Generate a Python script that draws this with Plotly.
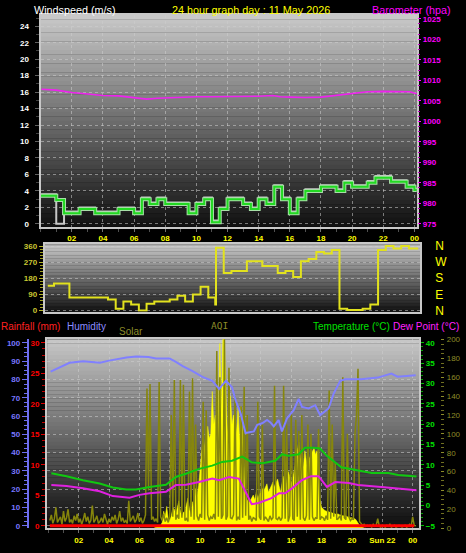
import plotly.graph_objects as go

W, H = 466, 553

# ---------------- data ----------------
hour_ticks = [2, 4, 6, 8, 10, 12, 14, 16, 18, 20, 22, 24]
hour_labels = ['02', '04', '06', '08', '10', '12', '14', '16', '18', '20', '22', '00']
hour_labels_p3 = ['02', '04', '06', '08', '10', '12', '14', '16', '18', '20', 'Sun 22', '00']

# wind speed (m/s), half-hour steps
wind_t = [0.0, 0.5, 1.0, 1.5, 2.0, 2.5, 3.0, 3.5, 4.0, 4.5, 5.0, 5.5, 6.0, 6.5, 7.0, 7.5,
          8.0, 8.5, 9.0, 9.5, 10.0, 10.5, 11.0, 11.5, 12.0, 12.5, 13.0, 13.5, 14.0, 14.5,
          15.0, 15.5, 16.0, 16.5, 17.0, 17.5, 18.0, 18.5, 19.0, 19.5, 20.0, 20.5, 21.0,
          21.5, 22.0, 22.5, 23.0, 23.5, 24.0, 24.15]
wind_speed = [3.4, 3.4, 2.9, 1.3, 1.3, 1.8, 1.8, 1.3, 1.3, 1.3, 1.8, 1.8, 1.3, 3.0, 2.4, 3.0,
              2.4, 2.4, 2.4, 1.3, 2.4, 3.0, 0.2, 1.8, 3.0, 3.0, 2.4, 1.8, 3.0, 2.4,
              4.5, 3.0, 1.3, 3.0, 4.0, 4.0, 4.5, 4.5, 4.0, 5.0, 4.5, 4.5, 5.0,
              5.6, 5.6, 5.1, 5.1, 4.5, 4.1, 4.1]
wind_gust = [3.6, 3.6, 0.0, 1.5, 1.5, 2.0, 2.0, 1.5, 1.5, 1.5, 2.0, 2.0, 1.5, 3.2, 2.6, 3.2,
             2.6, 2.6, 2.6, 1.5, 2.6, 3.2, 0.4, 2.0, 3.2, 3.2, 2.6, 2.0, 3.2, 2.6,
             4.7, 3.2, 1.5, 3.2, 4.2, 4.2, 4.7, 4.7, 4.2, 5.2, 4.7, 4.7, 5.2,
             5.8, 5.8, 5.3, 5.3, 4.7, 4.3, 4.3]

# barometer (hPa)
baro_t = [0.05, 1, 2, 3, 4, 5, 6, 6.8, 7.5, 8, 9, 10, 11, 12, 13, 14, 14.9, 15.4, 16, 17,
          18, 19, 20, 21, 22, 23, 23.7, 24.15]
baro_hpa = [1007.8, 1007.6, 1007.0, 1006.6, 1006.3, 1006.2, 1005.8, 1005.4, 1005.6, 1005.7,
            1005.9, 1006.0, 1006.0, 1006.0, 1006.0, 1006.1, 1006.3, 1006.0, 1005.9, 1005.8,
            1005.9, 1006.3, 1006.8, 1007.2, 1007.3, 1007.2, 1007.2, 1006.7]

# wind direction (degrees)
dir_t = [0.1, 0.5, 1.5, 4.0, 4.5, 5.0, 5.5, 6.0, 6.5, 7.0, 8.0, 8.5, 9.0, 9.5, 10.0, 10.5,
         10.95, 11.0, 11.5, 12.0, 13.0, 14.0, 15.0, 15.5, 16.0, 16.5, 17.0, 17.5, 18.0, 18.5,
         19.0, 19.5, 20.5, 21.0, 21.5, 22.0, 22.5, 23.0, 23.5, 24.1]
dir_deg = [138, 151, 72, 61, 10, 50, 33, 0, 37, 50, 61, 83, 50, 89, 133, 72,
           33, 351, 209, 221, 275, 249, 209, 221, 187, 275, 288, 327, 319, 338,
           10, 3, 10, 33, 338, 360, 347, 360, 347, 347]
compass_vals = [0, 90, 180, 270, 360]
compass_text = ['N', 'E', 'S', 'W', 'N']

# humidity (%)
hum_t = [0.15, 0.75, 1.4, 2.3, 3.4, 4.0, 4.6, 5.15, 5.8, 6.6, 7.1, 8.0, 8.4, 8.85, 9.5,
         10.15, 10.8, 11.25, 11.7, 11.9, 12.1, 12.34, 12.67, 12.99, 13.54, 13.76, 14.09,
         14.41, 14.63, 14.85, 15.17, 15.39, 15.72, 16.16, 16.49, 16.71, 17.15, 17.58, 17.91,
         18.46, 18.79, 19.23, 19.56, 20.6, 21.7, 22.6, 23.0, 24.2]
hum_pct = [84.3, 86.4, 89.1, 90.0, 89.1, 90.3, 91.4, 92.0, 92.6, 92.3, 91.4, 91.4, 89.6, 87.3, 84.6,
           81.4, 79.3, 74.8, 79.3, 77.5, 75.7, 68.6, 61.4, 50.7, 51.6, 55.2, 56.0,
           57.8, 56.5, 54.3, 57.8, 51.6, 58.7, 63.2, 69.4, 65.0, 64.1, 65.9, 60.5,
           64.1, 72.1, 79.3, 80.1, 80.1, 81.0, 83.2, 81.5, 82.3]

# temperature / dew point (°C)
temp_t = [0.2, 1.2, 2.28, 3.38, 4.25, 5.13, 5.78, 6.66, 7.75, 8.4, 9.06, 9.93, 10.8, 11.45,
          12.1, 12.77, 13.4, 14.1, 14.95, 15.4, 15.8, 16.5, 16.9, 17.5, 17.9, 18.35, 19.3,
          20.4, 21.3, 22.4, 23.05, 24.25]
temp_c = [7.9, 7.2, 6.2, 5.4, 4.4, 3.9, 3.9, 4.55, 5.1, 7.0, 7.8, 9.0, 9.8, 10.7,
          11.0, 12.0, 10.6, 10.4, 11.0, 12.6, 12.2, 12.6, 14.2, 14.2, 14.0, 12.2, 9.4,
          8.7, 8.0, 8.0, 7.5, 7.1]
dew_t = [0.2, 1.2, 2.28, 3.38, 4.25, 5.35, 6.0, 6.66, 7.75, 8.4, 9.06, 9.93, 10.8, 11.25,
         11.9, 12.55, 12.99, 13.4, 13.85, 14.3, 14.7, 15.2, 15.6, 16.05, 16.7, 17.3, 17.8,
         18.35, 18.9, 19.8, 20.4, 21.95, 23.05, 24.25]
dew_c = [5.0, 4.8, 4.2, 3.5, 2.3, 1.9, 2.6, 3.0, 3.35, 5.0, 5.1, 5.75, 6.6, 6.2,
         7.0, 6.6, 3.35, 0.3, 0.6, 1.3, 1.8, 3.0, 3.0, 4.2, 6.2, 7.2, 7.2,
         4.55, 5.75, 5.5, 5.0, 4.55, 4.2, 3.75]

# rainfall (mm)
rain_t = [0.1, 24.1]
rain_mm = [0.0, 0.0]

# solar (W/m2), 6-minute samples from 07:00
solar_start = 7.0
solar_wm2 = [1, 1, 2, 2, 3, 6, 18, 12, 23, 10,
             8, 13, 22, 20, 15, 24, 29, 18, 12, 17,
             17, 25, 32, 20, 14, 28, 20, 42, 35, 45,
             63, 80, 98, 85, 70, 108, 95, 100, 145, 110,
             120, 90, 118, 196, 120, 205, 200, 145, 100, 115,
             140, 110, 120, 118, 100, 129, 90, 129, 101, 60,
             36, 30, 28, 29, 33, 35, 30, 38, 32, 36,
             39, 42, 40, 44, 47, 38, 42, 45, 49, 44,
             49, 52, 45, 38, 48, 55, 42, 50, 60, 55,
             48, 52, 62, 70, 80, 91, 75, 70, 65, 82,
             70, 60, 74, 78, 80, 85, 78, 82, 65, 30,
             22, 20, 19, 18, 18, 17, 17, 16, 16, 15,
             15, 15, 14, 14, 13, 13, 13, 12, 12, 11,
             11, 10, 10, 8, 5, 3, 2, 1, 0, 0]

# AQI, 6-minute samples from 00:06
aqi_start = 0.1
aqi_val = [8, 14, 5, 10, 22, 6, 9, 12, 4, 18,
           7, 11, 20, 6, 9, 5, 13, 8, 15, 6,
           10, 4, 9, 16, 7, 12, 5, 8, 24, 6,
           9, 13, 5, 7, 11, 6, 15, 8, 4, 10,
           6, 12, 8, 14, 5, 9, 18, 7, 11, 6,
           8, 5, 29, 7, 10, 13, 6, 9, 16, 7,
           11, 5, 8, 14, 148, 40, 153, 9, 12, 7,
           10, 6, 155, 12, 8, 15, 7, 11, 6, 13,
           120, 12, 157, 9, 14, 10, 157, 11, 152, 8,
           10, 7, 145, 12, 159, 9, 110, 13, 8, 15,
           11, 134, 9, 125, 14, 8, 12, 10, 15, 9,
           188, 12, 160, 10, 14, 205, 9, 13, 170, 11,
           10, 14, 140, 8, 12, 9, 129, 11, 150, 13,
           120, 9, 13, 7, 11, 10, 8, 134, 12, 9,
           110, 8, 12, 10, 7, 13, 9, 11, 151, 10,
           9, 12, 8, 11, 151, 10, 110, 7, 13, 122,
           10, 8, 115, 12, 103, 9, 120, 11, 8, 13,
           110, 9, 100, 12, 8, 11, 10, 105, 9, 12,
           11, 8, 13, 9, 146, 10, 110, 12, 70, 9,
           10, 13, 8, 160, 11, 9, 100, 12, 8, 10,
           9, 100, 120, 169, 7, 5, 3, 4, 2, 3,
           2, 3, 1, 4, 2, 3, 10, 2, 1, 3,
           2, 1, 3, 2, 4, 1, 2, 3, 1, 2,
           3, 2, 1, 2, 3, 1, 2, 4, 2, 12,
           3, 2]

solar_t = [round(solar_start + 0.1 * i, 2) for i in range(len(solar_wm2))]
aqi_t = [round(aqi_start + 0.1 * i, 2) for i in range(len(aqi_val))]

# ---------------- geometry helpers ----------------
def fx(px):
    return px / W

def fy(py):
    return 1 - py / H

P1 = dict(l=40.7, r=419, t=10, b=226)
P2 = dict(l=45, r=422, t=244, b=313)
P3 = dict(l=47.3, r=421, t=341, b=534)

TICKFONT = dict(family='Liberation Sans, Arial, sans-serif', size=8, weight='bold')
GRID = 'rgba(205,205,205,0.55)'

fig = go.Figure()

# ---------- panel 1 ----------
fig.add_trace(go.Scatter(x=wind_t, y=wind_gust, mode='lines', line=dict(color='#c8c8c8', width=2, shape='hv'),
                         xaxis='x', yaxis='y', hoverinfo='skip'))
fig.add_trace(go.Scatter(x=wind_t, y=wind_speed, mode='lines', line=dict(color='#a8e0a8', width=4, shape='hv'),
                         xaxis='x', yaxis='y', hoverinfo='skip'))
fig.add_trace(go.Scatter(x=wind_t, y=wind_speed, mode='lines', line=dict(color='#22d822', width=2, shape='hv'),
                         xaxis='x', yaxis='y'))
fig.add_trace(go.Scatter(x=baro_t, y=baro_hpa, mode='lines', line=dict(color='#ee22ee', width=1.6),
                         xaxis='x', yaxis='y2'))

# ---------- panel 2 ----------
fig.add_trace(go.Scatter(x=dir_t, y=dir_deg, mode='lines', line=dict(color='#e2e21e', width=2, shape='hv'),
                         xaxis='x2', yaxis='y3'))
fig.add_trace(go.Scatter(x=dir_t, y=dir_deg, mode='lines', line=dict(width=0), opacity=0,
                         xaxis='x2', yaxis='y4', hoverinfo='skip'))

# ---------- panel 3 ----------
fig.add_trace(go.Scatter(x=solar_t, y=solar_wm2, mode='lines', fill='tozeroy', fillcolor='#ffff00',
                         line=dict(color='#ffff00', width=0.5), xaxis='x3', yaxis='y5'))
fig.add_trace(go.Scatter(x=aqi_t, y=aqi_val, mode='lines', line=dict(color='#86860c', width=1.5),
                         xaxis='x3', yaxis='y5'))
fig.add_trace(go.Scatter(x=rain_t, y=rain_mm, mode='lines', line=dict(color='#ff0000', width=3),
                         xaxis='x3', yaxis='y6'))
fig.add_trace(go.Scatter(x=dew_t, y=dew_c, mode='lines', line=dict(color='#e020e0', width=2),
                         xaxis='x3', yaxis='y7'))
fig.add_trace(go.Scatter(x=temp_t, y=temp_c, mode='lines', line=dict(color='#10c810', width=2),
                         xaxis='x3', yaxis='y7'))
fig.add_trace(go.Scatter(x=hum_t, y=hum_pct, mode='lines', line=dict(color='#8080ff', width=2),
                         xaxis='x3', yaxis='y8'))

# ---------- background gradients ----------
shapes = []
def gradient(p, top_c, bot_c, n=48):
    h = (p['b'] - p['t']) / n
    for i in range(n):
        f = (i + 0.5) / n
        c = int(round(top_c + (bot_c - top_c) * f))
        y0 = p['t'] + i * h
        shapes.append(dict(type='rect', xref='paper', yref='paper', layer='below',
                           x0=fx(p['l']), x1=fx(p['r']), y0=fy(y0 + h + 0.3), y1=fy(y0),
                           line=dict(width=0), fillcolor=f'rgb({c},{c},{c})'))
gradient(P1, 202, 16)
gradient(P2, 202, 18)
gradient(P3, 200, 12)

# ---------- annotations ----------
ann = []
def text(x, y, s, color, size=11, family='Liberation Sans, Arial, sans-serif'):
    ann.append(dict(x=fx(x), y=fy(y), xref='paper', yref='paper', text=s, showarrow=False,
                    xanchor='left', yanchor='middle', borderpad=0,
                    font=dict(color=color, size=size, family=family)))
text(33, 5, 'Windspeed (m/s)', '#ffffff', size=10.8)
text(172, 5, '24 hour graph day : 11 May 2026', '#ffff00', size=10.8)
text(373, 5, 'Barometer (hpa)', '#ff00ff', size=10.8)
text(0, 328, 'Rainfall (mm)', '#ff2020', size=10)
text(66, 328, 'Humidity', '#8c8cff', size=10)
text(119, 333, 'Solar', '#8c8c28', size=10)
text(211, 327, 'AQI', '#8c8c28', size=9.5, family='DejaVu Sans Mono, monospace')
text(313, 328, 'Temperature (°C)', '#00e000', size=10)
text(394, 328, 'Dew Point (°C)', '#ff20ff', size=10)

def xax(p, anchor, labels, show=True, grid=True):
    return dict(domain=[fx(p['l']), fx(p['r'])], anchor=anchor, tickmode='array',
                tickvals=hour_ticks, ticktext=labels, showticklabels=show,
                tickfont=dict(TICKFONT, color='#ffff00'), ticks='outside' if show else '',
                ticklen=3, tickcolor='#707070',
                minor=dict(ticks='outside' if show else '', ticklen=3, tickcolor='#505050', dtick=1),
                showgrid=grid, gridcolor=GRID, griddash='dot', gridwidth=1,
                showline=True, linecolor='#c8c8c8', linewidth=2, mirror=True, zeroline=False)

fig.update_layout(
    width=W, height=H, margin=dict(l=0, r=0, t=0, b=0),
    paper_bgcolor='#000000', plot_bgcolor='rgba(0,0,0,0)', showlegend=False,
    shapes=shapes, annotations=ann,
    xaxis=dict(xax(P1, 'y', hour_labels), range=[-0.01, 24.18]),
    yaxis=dict(domain=[fy(P1['b']), fy(P1['t'])], range=[-0.32, 25.39], anchor='x',
               tickmode='array', tickvals=list(range(0, 25, 2)),
               tickfont=dict(TICKFONT, color='#ffffff'), ticks='outside', ticklen=4, tickcolor='#606060',
               ticklabelstandoff=4,
               minor=dict(ticks='outside', ticklen=3, tickcolor='#404040', dtick=1),
               showgrid=True, gridcolor=GRID, griddash='dot', zeroline=False,
               showline=True, linecolor='#c8c8c8', linewidth=2, mirror=True),
    yaxis2=dict(overlaying='y', side='right', anchor='x', range=[974.35, 1025.96],
                tickmode='array', tickvals=list(range(975, 1026, 5)),
                tickfont=dict(TICKFONT, color='#ff00ff'), ticks='outside', ticklen=3, tickcolor='#ff00ff',
                minor=dict(ticks='outside', ticklen=2, tickcolor='#c000c0', dtick=1.25),
                showgrid=False, zeroline=False, showline=False),
    xaxis2=dict(xax(P2, 'y3', hour_labels, show=False, grid=False), range=[-0.094, 24.23]),
    yaxis3=dict(domain=[fy(P2['b']), fy(P2['t'])], range=[-7.2, 371], anchor='x2',
                tickmode='array', tickvals=compass_vals,
                tickfont=dict(TICKFONT, color='#c8c832'), ticks='outside', ticklen=4, tickcolor='#b4b428',
                minor=dict(ticks='outside', ticklen=3, tickcolor='#a0a020', dtick=18),
                showgrid=True, gridcolor=GRID, griddash='dot', zeroline=False,
                showline=True, linecolor='#c8c8c8', linewidth=2, mirror=True),
    yaxis4=dict(overlaying='y3', side='right', anchor='x2', range=[-7.2, 371],
                tickmode='array', tickvals=compass_vals, ticktext=compass_text,
                tickfont=dict(family='Liberation Sans, Arial, sans-serif', size=12, color='#ffff00'),
                ticks='', ticklabelstandoff=14, showgrid=False, zeroline=False, showline=False),
    xaxis3=dict(xax(P3, 'y6', hour_labels_p3), range=[-0.08, 24.43]),
    yaxis5=dict(domain=[fy(P3['b']), fy(P3['t'])], range=[-0.3, 200.4], anchor='free',
                position=fx(442), side='right',
                tickmode='array', tickvals=list(range(0, 201, 20)),
                tickfont=dict(family='Liberation Sans, Arial, sans-serif', size=8, color='#8c8c28'),
                ticks='outside', ticklen=3, tickcolor='#8c8c28', ticklabelstandoff=1,
                minor=dict(ticks='outside', ticklen=3, tickcolor='#707020', dtick=5),
                showgrid=False, zeroline=False, showline=False),
    yaxis6=dict(overlaying='y5', anchor='x3', side='left', range=[-0.43, 30.6],
                tickmode='array', tickvals=list(range(0, 31, 5)),
                tickfont=dict(TICKFONT, color='#ff0000'), ticks='outside', ticklen=4, tickcolor='#e00000',
                minor=dict(ticks='outside', ticklen=3, tickcolor='#c00000', dtick=1),
                showgrid=False, zeroline=False, showline=True, linecolor='#c8c8c8', linewidth=2),
    yaxis7=dict(overlaying='y5', anchor='x3', side='right', range=[-5.65, 40.9],
                tickmode='array', tickvals=list(range(-5, 41, 5)),
                tickfont=dict(TICKFONT, color='#00e000'), ticks='outside', ticklen=3, tickcolor='#00c000',
                minor=dict(ticks='outside', ticklen=2, tickcolor='#00a000', dtick=1),
                showgrid=False, zeroline=False, showline=True, linecolor='#c8c8c8', linewidth=2),
    yaxis8=dict(overlaying='y5', anchor='free', position=fx(28), side='left', range=[-1.45, 102],
                tickmode='array', tickvals=list(range(0, 101, 10)),
                tickfont=dict(TICKFONT, color='#7878ff'), ticks='outside', ticklen=5, tickcolor='#6e6ef0',
                minor=dict(ticks='outside', ticklen=3, tickcolor='#6e6ef0', dtick=2.5),
                showgrid=True, gridcolor=GRID, griddash='dot', zeroline=False,
                showline=True, linecolor='#6e6ef0', linewidth=2),
)

fig.write_html('out.html', config={'displayModeBar': False},
               post_script="document.body.style.margin='0px';document.body.style.overflow='hidden';")
